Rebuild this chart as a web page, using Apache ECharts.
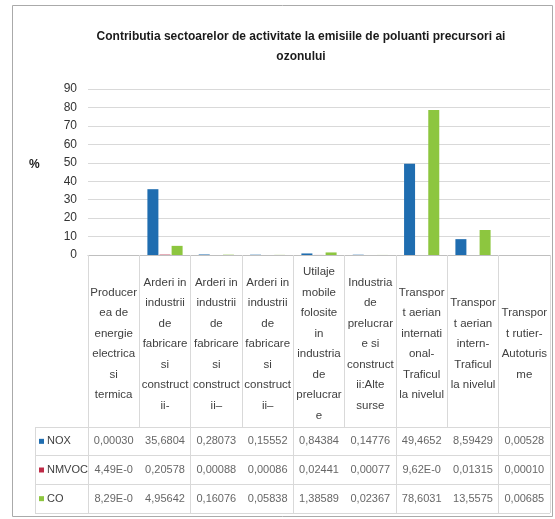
<!DOCTYPE html>
<html>
<head>
<meta charset="utf-8">
<script src="https://cdn.jsdelivr.net/npm/echarts@6/dist/echarts.min.js"></script>
<style>
  html, body { margin: 0; padding: 0; background: #ffffff; }
  #chart { width: 555px; height: 519px; }
</style>
</head>
<body>
<div id="chart"></div>
<script>
// Sector names, wrapped the way they appear in the table header cells
const categories = [
  'Producer\nea de\nenergie\nelectrica\nsi\ntermica',
  'Arderi in\nindustrii\nde\nfabricare\nsi\nconstruct\nii-',
  'Arderi in\nindustrii\nde\nfabricare\nsi\nconstruct\nii–',
  'Arderi in\nindustrii\nde\nfabricare\nsi\nconstruct\nii–',
  'Utilaje\nmobile\nfolosite\nin\nindustria\nde\nprelucrar\ne',
  'Industria\nde\nprelucrar\ne si\nconstruct\nii:Alte\nsurse',
  'Transpor\nt aerian\ninternati\nonal-\nTraficul\nla nivelul',
  'Transpor\nt aerian\nintern-\nTraficul\nla nivelul',
  'Transpor\nt rutier-\nAutoturis\nme'
];

// Pollutant shares (%) per sector
const seriesNames = ['NOX', 'NMVOC', 'CO'];
const noxValues   = [0.00030, 35.6804, 0.28073, 0.15552, 0.84384, 0.14776, 49.4652, 8.59429, 0.00528];
const nmvocValues = [4.49e-5, 0.20578, 0.00088, 0.00086, 0.02441, 0.00077, 9.62e-5, 0.01315, 0.00010];
const coValues    = [8.29e-5, 4.95642, 0.16076, 0.05838, 1.38589, 0.02367, 78.6031, 13.5575, 0.00685];
const seriesColors = ['#1f6db0', '#be2a46', '#8dc63f'];

// Value axis scale
const yMin = 0, yMax = 90, yStep = 10;

const allValues = [noxValues, nmvocValues, coValues];
const FONT = "'Liberation Sans', Arial, sans-serif";
const LINE = '#d9d9d9';

// Table cell text: at most 7 characters, decimal comma
function fmt(v) {
  let s;
  if (v < 0.0001) {
    const parts = v.toExponential(2).split('e');
    const n = parseInt(parts[1], 10);
    s = parts[0] + 'E' + (n < 0 ? '-' : '+') + String(Math.abs(n)).padStart(2, '0');
    s = s.slice(0, 7);
  } else if (v >= 10) {
    s = v.toFixed(4);
  } else {
    s = v.toFixed(5);
  }
  return s.replace('.', ',');
}

const chart = echarts.init(document.getElementById('chart'), null, { renderer: 'canvas' });

const barSeries = seriesNames.map((name, k) => ({
  type: 'bar',
  name: name,
  xAxisIndex: 0,
  yAxisIndex: 0,
  data: allValues[k],
  barWidth: 11,
  barGap: '10%',
  itemStyle: { color: seriesColors[k] },
  silent: true
}));

// Data table cells: one text per sector and pollutant
const tableSeries = seriesNames.map((name, k) => ({
  type: 'scatter',
  xAxisIndex: 1,
  yAxisIndex: 1,
  symbolSize: 0,
  silent: true,
  data: allValues[k].map((v, i) => ({ value: [i, k], raw: v })),
  label: {
    show: true,
    position: 'inside',
    formatter: p => fmt(p.data.raw),
    fontFamily: FONT,
    fontSize: 11,
    color: '#404040'
  }
}));

const keyRich = {};
seriesNames.forEach((n, k) => {
  keyRich['k' + k] = { width: 5, height: 5, backgroundColor: seriesColors[k] };
});
keyRich.t = { fontFamily: FONT, fontSize: 11, color: '#404040', padding: [0, 0, 0, 3] };

chart.setOption({
  animation: false,
  backgroundColor: '#ffffff',
  title: {
    text: 'Contributia sectoarelor de activitate la emisiile de poluanti precursori ai\nozonului',
    left: 301,
    top: 27,
    padding: 0,
    textAlign: 'center',
    textStyle: {
      fontFamily: FONT,
      fontSize: 12,
      fontWeight: 'bold',
      color: '#1a1a1a',
      lineHeight: 20
    }
  },
  graphic: [
    {
      type: 'rect',
      shape: { x: 12.5, y: 5.5, width: 540, height: 511 },
      style: { fill: 'none', stroke: '#aaaaaa', lineWidth: 1 },
      silent: true,
      z: -1
    },
    {
      type: 'text',
      left: 29,
      top: 159,
      style: { text: '%', fontFamily: FONT, fontSize: 12, fontWeight: 'bold', fill: '#1a1a1a' },
      silent: true
    }
  ],
  grid: [
    { left: 88, right: 5, top: 89, height: 166 },
    { left: 88, right: 5, top: 427, height: 86 },
    { left: 35, width: 53, top: 427, height: 86 }
  ],
  xAxis: [
    {
      gridIndex: 0,
      type: 'category',
      data: categories,
      axisLine: { show: true, lineStyle: { color: '#bfbfbf' } },
      axisTick: { show: true, length: 172, lineStyle: { color: LINE } },
      splitLine: { show: false },
      axisLabel: {
        interval: 0,
        margin: 89,
        verticalAlign: 'middle',
        fontFamily: FONT,
        fontSize: 11.5,
        lineHeight: 20.5,
        color: '#404040'
      }
    },
    {
      gridIndex: 1,
      type: 'category',
      data: categories,
      axisLine: { show: false },
      axisTick: { show: false },
      axisLabel: { show: false },
      splitLine: { show: true, lineStyle: { color: LINE } }
    },
    {
      gridIndex: 2,
      type: 'category',
      data: [''],
      axisLine: { show: false },
      axisTick: { show: false },
      axisLabel: { show: false },
      splitLine: { show: true, lineStyle: { color: LINE } }
    }
  ],
  yAxis: [
    {
      gridIndex: 0,
      type: 'value',
      min: yMin,
      max: yMax,
      interval: yStep,
      axisLine: { show: false },
      axisTick: { show: false },
      splitLine: { show: true, lineStyle: { color: LINE } },
      axisLabel: { margin: 11, fontFamily: FONT, fontSize: 12, color: '#333333' }
    },
    {
      gridIndex: 1,
      type: 'category',
      data: seriesNames,
      inverse: true,
      axisLine: { show: false },
      axisTick: { show: false },
      axisLabel: { show: false },
      splitLine: { show: true, lineStyle: { color: LINE } }
    },
    {
      gridIndex: 2,
      type: 'category',
      data: seriesNames,
      inverse: true,
      axisLine: { show: false },
      axisTick: { show: false },
      splitLine: { show: true, lineStyle: { color: LINE } },
      axisLabel: {
        inside: true,
        margin: 4,
        align: 'left',
        formatter: (v, i) => '{k' + i + '|}{t|' + v + '}',
        rich: keyRich
      }
    }
  ],
  series: barSeries.concat(tableSeries)
});
</script>
</body>
</html>
